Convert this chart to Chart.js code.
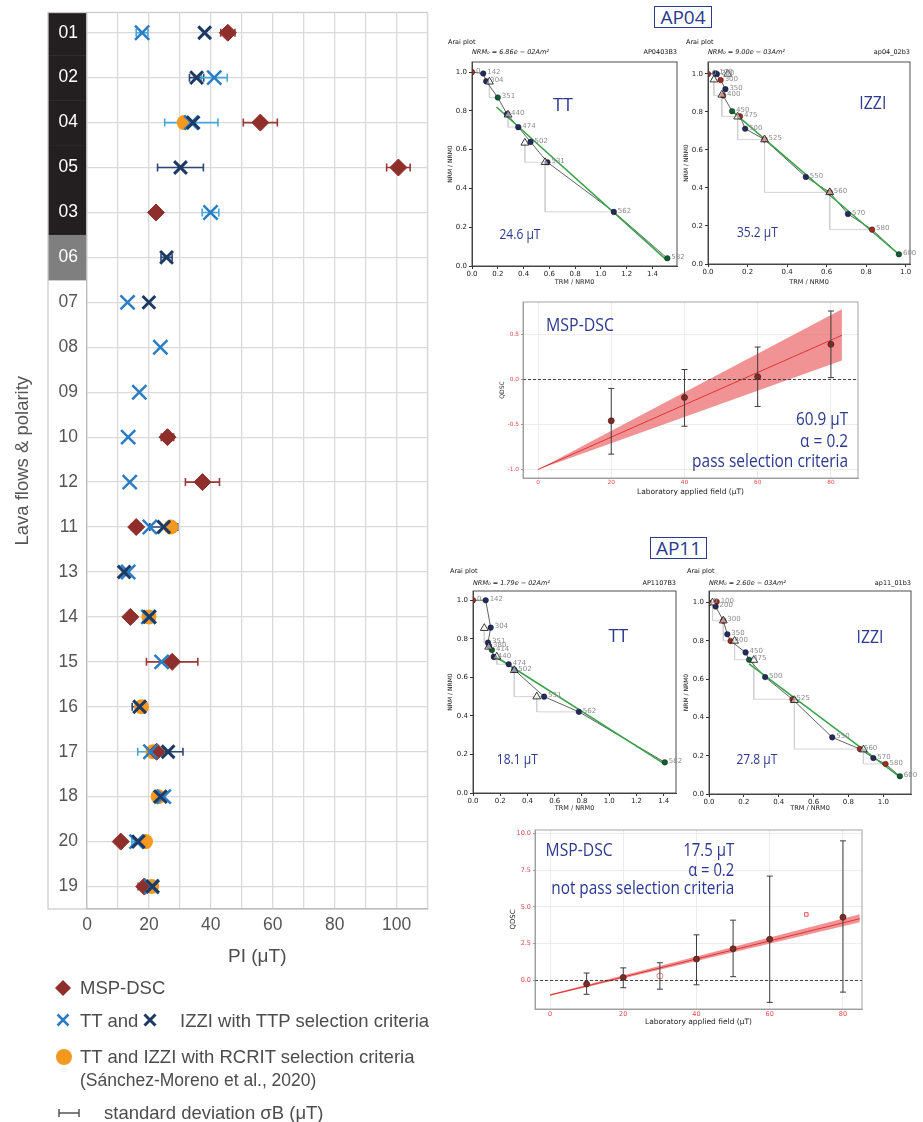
<!DOCTYPE html>
<html>
<head>
<meta charset="utf-8">
<script src="https://cdn.jsdelivr.net/npm/chart.js@4.4.1/dist/chart.umd.min.js"></script>
<style>
  body { margin: 0; background: #fff; }
  #wrap { position: relative; width: 923px; height: 1122px; overflow: hidden; font-family: "Liberation Sans", Arial, sans-serif; }
  canvas { position: absolute; }
  .box { position: absolute; box-sizing: border-box; border: 1px solid #2b3990; color: #2b3990;
         font: 19px "Open Sans", sans-serif; text-align: center; line-height: 20px; height: 22px; }
  .lg { position: absolute; color: #4d4d4d; font-size: 18.5px; white-space: nowrap; line-height: 22px; }
</style>
</head>
<body>
<div id="wrap">
  <canvas id="main" width="440" height="975" style="left:0;top:0"></canvas>
  <canvas id="a1" width="250" height="254" style="left:440px;top:36px"></canvas>
  <canvas id="a2" width="241" height="254" style="left:682px;top:36px"></canvas>
  <canvas id="d1" width="375" height="205" style="left:495px;top:295px"></canvas>
  <canvas id="a3" width="250" height="253" style="left:440px;top:565px"></canvas>
  <canvas id="a4" width="241" height="253" style="left:682px;top:565px"></canvas>
  <canvas id="d2" width="375" height="208" style="left:495px;top:822px"></canvas>

  <div class="box" style="left:654px;top:6px;width:58px">AP04</div>
  <div class="box" style="left:650px;top:537px;width:57px">AP11</div>

  <svg width="200" height="152" style="position:absolute;left:0;top:970px">
    <polygon points="63,10 71,18 63,26 55,18" fill="#8e2f2b"/>
    <path d="M57.5,44.5 L68.5,55.5 M68.5,44.5 L57.5,55.5" stroke="#2a7dc4" stroke-width="2.5"/>
    <path d="M144.5,44.5 L155.5,55.5 M155.5,44.5 L144.5,55.5" stroke="#1c3a63" stroke-width="3"/>
    <circle cx="64" cy="87" r="8" fill="#f5981f"/>
    <path d="M59,143 L79,143 M59,139 L59,147 M79,139 L79,147" stroke="#555" stroke-width="1.5"/>
  </svg>
  <div class="lg" style="left:80px;top:977px">MSP-DSC</div>
  <div class="lg" style="left:80px;top:1010px">TT and</div>
  <div class="lg" style="left:180px;top:1010px">IZZI with TTP selection criteria</div>
  <div class="lg" style="left:80px;top:1046px">TT and IZZI with RCRIT selection criteria</div>
  <div class="lg" style="left:80px;top:1069px;font-size:17.5px">(Sánchez-Moreno et al., 2020)</div>
  <div class="lg" style="left:104px;top:1102px">standard deviation σB (μT)</div>
</div>

<script>
// ---- main panel: palaeointensity per lava flow ----
const flows    = ['01','02','04','05','03','06','07','08','09','10','12','11','13','14','15','16','17','18','20','19'];
const polarity = ['R','R','R','R','R','T','N','N','N','N','N','N','N','N','N','N','N','N','N','N'];
const mspPI  = [45.5, null, 56.0, 100.6, 22.3, null, null, null, null, 26.0, 37.3, 15.9, null, 14.0, 27.5, null, 22.5, null, 10.9, 18.5];
const mspSD  = [2.3, null, 5.5, 3.8, null, null, null, null, null, 2.0, 5.5, 1.5, null, null, 8.3, null, null, null, 0.8, 2.0];
const ttPI   = [17.8, 41.1, 33.7, null, 39.9, null, 13.1, 23.7, 16.9, 13.3, 13.8, 20.3, 13.3, 19.8, 24.1, null, 20.5, 24.8, 16.0, 20.8];
const ttSD   = [1.9, 4.2, 8.6, null, 2.7, null, null, null, null, null, null, null, null, null, null, null, 4.1, null, 1.5, null];
const izziPI = [38.0, 35.4, 34.3, 30.2, null, 25.7, 20.0, null, null, null, null, 24.8, 12.0, 20.2, null, 17.0, 26.2, 23.7, 16.6, 21.2];
const izziSD = [null, 2.3, null, 7.4, null, 1.8, null, null, null, null, null, 4.5, null, null, null, 2.4, 4.8, null, null, null];
const rcritPI = [null, null, 31.4, null, null, null, null, null, null, null, null, 27.1, null, 20.0, null, 17.6, 21.3, 23.0, 18.9, 20.9];
const piTicks = [0, 10, 20, 30, 40, 50, 60, 70, 80, 90, 100, 110];

// ---- Arai plots ----
const a1Steps = ['0','142','304','351','440','474','502','531','562','582'];
const a1X   = [0, 0.087, 0.11, 0.2, 0.272, 0.359, 0.454, 0.585, 1.10, 1.515];
const a1Y   = [1.0, 0.993, 0.953, 0.869, 0.783, 0.716, 0.64, 0.535, 0.279, 0.04];
const a1Col = ['r','n','n','g','n','n','n','n','n','g'];
const a1TriX = [0.135, 0.28, 0.41, 0.567];
const a1TriY = [0.95, 0.78, 0.635, 0.535];
const a1CheckTo = [3, 5, 7, 8];
const a1FitX = [0.19, 1.51], a1FitY = [0.82, 0.03];

const a2Steps = ['0','100','200','300','350','400','450','475','500','525','550','560','570','580','600'];
const a2X   = [0, 0.037, 0.045, 0.064, 0.088, 0.076, 0.122, 0.162, 0.188, 0.286, 0.495, 0.616, 0.708, 0.83, 0.966];
const a2Y   = [1.0, 1.003, 1.0, 0.968, 0.92, 0.887, 0.804, 0.777, 0.712, 0.655, 0.458, 0.377, 0.263, 0.181, 0.051];
const a2Col = ['r','n','n','r','n','r','g','r','n','r','n','r','n','r','g'];
const a2TriX = [0.03, 0.1, 0.07, 0.15, 0.286, 0.616];
const a2TriY = [0.97, 1.0, 0.89, 0.775, 0.655, 0.377];
const a2CheckTo = [5, null, 7, 9, 11, 13];
const a2FitX = [0.122, 0.966], a2FitY = [0.805, 0.05];

const a3Steps = ['0','142','304','351','380','414','440','474','502','531','562','582'];
const a3X   = [0, 0.093, 0.13, 0.11, 0.118, 0.139, 0.153, 0.262, 0.303, 0.522, 0.777, 1.408];
const a3Y   = [1.0, 1.0, 0.858, 0.78, 0.763, 0.742, 0.706, 0.668, 0.639, 0.5, 0.421, 0.159];
const a3Col = ['r','n','n','n','n','g','n','n','n','n','n','g'];
const a3TriX = [0.083, 0.115, 0.175, 0.303, 0.468];
const a3TriY = [0.855, 0.758, 0.707, 0.637, 0.5];
const a3CheckTo = [3, 5, 7, 9, 10];
const a3FitX = [0.139, 1.408], a3FitY = [0.72, 0.15];

const a4Steps = ['0','100','200','300','350','400','450','475','500','525','550','560','570','580','600'];
const a4X   = [0, 0.044, 0.038, 0.082, 0.105, 0.124, 0.21, 0.23, 0.322, 0.479, 0.707, 0.866, 0.943, 1.013, 1.095];
const a4Y   = [1.0, 1.005, 0.98, 0.906, 0.835, 0.8, 0.74, 0.702, 0.611, 0.495, 0.296, 0.235, 0.188, 0.157, 0.093];
const a4Col = ['r','r','n','r','n','r','n','g','n','r','n','r','n','r','g'];
const a4TriX = [0.02, 0.082, 0.147, 0.257, 0.49, 0.886];
const a4TriY = [1.0, 0.906, 0.8, 0.70, 0.49, 0.232];
const a4CheckTo = [3, 5, 7, 9, 11, 13];
const a4FitX = [0.23, 1.095], a4FitY = [0.68, 0.09];

// ---- MSP-DSC plots ----
const d1Field = [20, 40, 60, 80];
const d1Q  = [-0.46, -0.2, 0.03, 0.39];
const d1Lo = [-0.83, -0.52, -0.3, 0.02];
const d1Hi = [-0.1, 0.11, 0.36, 0.76];
const d1Open = [false, false, false, false];
const d1BandX = [0, 83], d1BandHi = [-1, 0.78], d1BandLo = [-1, 0.21], d1Fit = [-1, 0.49];

const d2Field = [10, 20, 30, 40, 50, 60, 80];
const d2Q  = [-0.25, 0.2, 0.3, 1.45, 2.15, 2.8, 4.3];
const d2Lo = [-0.95, -0.5, -0.6, -0.3, 0.25, -1.5, -0.8];
const d2Hi = [0.5, 0.85, 1.2, 3.1, 4.1, 7.1, 9.5];
const d2Open = [false, false, true, false, false, false, false];
const d2ExtraX = [70], d2ExtraY = [4.49];
const d2BandX = [0, 84.6], d2BandHi = [-0.95, 4.5], d2BandLo = [-1.05, 3.95], d2Fit = [-1.0, 4.2];

const ARIAL = '"Liberation Sans", Arial, sans-serif';
const MPL = '"DejaVu Sans", sans-serif';
const BLUEF = '"Open Sans", sans-serif';
const BLUE = '#2b3990';
const dotColor = { r: '#a32a1e', n: '#232a5e', g: '#0f5f34' };
const bandFill = { R: '#231f20', T: '#7f7f7f' };

function fit(px) {
  return s => {
    if (s.isHorizontal()) s.height = px; else s.width = px;
    s.paddingTop = s.paddingBottom = s.paddingLeft = s.paddingRight = 0;
  };
}

function drawErr(chart, after) {
  const { ctx, scales: { x, y } } = chart;
  chart.data.datasets.forEach(ds => {
    const s = ds.errStyle;
    if (!s || !!s.after !== after) return;
    ctx.save();
    ctx.strokeStyle = s.color;
    ctx.lineWidth = s.width;
    ds.data.forEach(p => {
      ctx.beginPath();
      if (p.e != null) {
        const py = y.getPixelForValue(p.y), l = x.getPixelForValue(p.x - p.e), r = x.getPixelForValue(p.x + p.e);
        ctx.moveTo(l, py); ctx.lineTo(r, py);
        ctx.moveTo(l, py - s.cap); ctx.lineTo(l, py + s.cap);
        ctx.moveTo(r, py - s.cap); ctx.lineTo(r, py + s.cap);
      }
      if (p.lo != null) {
        const px = x.getPixelForValue(p.x), b = y.getPixelForValue(p.lo), t = y.getPixelForValue(p.hi);
        ctx.moveTo(px, b); ctx.lineTo(px, t);
        ctx.moveTo(px - s.cap, b); ctx.lineTo(px + s.cap, b);
        ctx.moveTo(px - s.cap, t); ctx.lineTo(px + s.cap, t);
      }
      ctx.stroke();
    });
    ctx.restore();
  });
}
const errBars = {
  id: 'errBars',
  beforeDatasetsDraw(chart) { drawErr(chart, false); },
  afterDatasetsDraw(chart) { drawErr(chart, true); }
};

// black / grey boxes behind the flow names, plus the outer frame
const flowBands = {
  id: 'flowBands',
  beforeDraw(chart) {
    const { ctx, chartArea: a, scales: { y } } = chart;
    const x0 = 48;
    ctx.save();
    polarity.forEach((p, i) => {
      if (!bandFill[p]) return;
      const t = Math.max(a.top, y.getPixelForValue(i - 0.5));
      const b = Math.min(a.bottom, y.getPixelForValue(i + 0.5));
      ctx.fillStyle = bandFill[p];
      ctx.fillRect(x0, t, a.left - x0, b - t + 0.5);
    });
    ctx.strokeStyle = '#cccccc';
    ctx.lineWidth = 1.3;
    ctx.strokeRect(x0, a.top, a.right - x0, a.bottom - a.top);
    ctx.restore();
  }
};

// frames, step labels, zero line and the blue annotations of the small plots
const decor = {
  id: 'decor',
  afterDatasetsDraw(chart, args, o) {
    const { ctx, chartArea: a, scales: { x, y } } = chart;
    ctx.save();
    if (o.zero) {
      const py = Math.round(y.getPixelForValue(0)) + 0.5;
      ctx.setLineDash([3, 2]);
      ctx.strokeStyle = '#333';
      ctx.lineWidth = 0.9;
      ctx.beginPath(); ctx.moveTo(a.left, py); ctx.lineTo(a.right, py); ctx.stroke();
      ctx.setLineDash([]);
    }
    if (o.frame) {
      ctx.strokeStyle = o.frame;
      ctx.lineWidth = 0.9;
      ctx.strokeRect(a.left, a.top, a.right - a.left, a.bottom - a.top);
    }
    chart.data.datasets.forEach((ds, di) => {
      if (!ds.stepLabels) return;
      const meta = chart.getDatasetMeta(di);
      ctx.fillStyle = '#8c8c8c';
      ctx.font = '7px ' + MPL;
      ctx.textAlign = 'left';
      ctx.textBaseline = 'middle';
      meta.data.forEach((el, i) => ctx.fillText(ds.stepLabels[i], el.x + 4, el.y - 1));
    });
    (o.head || []).forEach(h => {
      ctx.font = (h.italic ? 'italic ' : '') + (h.size || 6.5) + 'px ' + MPL;
      ctx.fillStyle = '#111';
      ctx.textAlign = h.align || 'left';
      ctx.textBaseline = 'middle';
      const hx = h.x === 'L' ? a.left : h.x === 'R' ? a.right : h.x;
      ctx.fillText(h.t, hx, h.y);
    });
    (o.notes || []).forEach(n => {
      ctx.font = n.size + 'px ' + BLUEF;
      ctx.fillStyle = BLUE;
      ctx.textAlign = n.align || 'center';
      ctx.textBaseline = 'middle';
      const px = x.getPixelForValue(n.x), py = y.getPixelForValue(n.y);
      if (n.maxW) ctx.fillText(n.t, px, py, n.maxW); else ctx.fillText(n.t, px, py);
    });
    ctx.restore();
  }
};

// ---------- main chart ----------
const series = (vals, sds) => vals.map((v, i) => v == null ? null : { x: v, y: i, e: sds ? sds[i] : null }).filter(p => p);

new Chart(document.getElementById('main'), {
  type: 'scatter',
  data: {
    datasets: [
      { label: 'IZZI', data: series(izziPI, izziSD), pointStyle: 'crossRot', pointRadius: 9,
        pointBorderColor: '#1c3a63', pointBorderWidth: 3, errStyle: { color: '#2b4675', width: 1.6, cap: 4 }, order: 0 },
      { label: 'TT', data: series(ttPI, ttSD), pointStyle: 'crossRot', pointRadius: 10,
        pointBorderColor: '#2a7dc4', pointBorderWidth: 2.5, errStyle: { color: '#45a8d6', width: 1.6, cap: 4 }, order: 1 },
      { label: 'MSP-DSC', data: series(mspPI, mspSD), pointStyle: 'rectRot', pointRadius: 8.5,
        pointBackgroundColor: '#8e2f2b', pointBorderColor: '#8e2f2b', pointBorderWidth: 1, errStyle: { color: '#9a3a36', width: 1.6, cap: 4 }, order: 2 },
      { label: 'RCRIT', data: series(rcritPI, null), pointStyle: 'circle', pointRadius: 7.5,
        pointBackgroundColor: '#f5981f', pointBorderWidth: 0, order: 3 }
    ]
  },
  options: {
    responsive: false, animation: false, events: [],
    layout: { padding: { top: 8, right: 11, left: 0, bottom: 0 } },
    plugins: { legend: { display: false }, tooltip: { enabled: false } },
    scales: {
      x: {
        type: 'linear', min: 0, max: 110,
        afterBuildTicks: s => { s.ticks = piTicks.map(v => ({ value: v })); },
        ticks: { callback: v => v % 20 === 0 && v <= 100 ? v : '', autoSkip: false, maxRotation: 0,
                 font: { family: ARIAL, size: 17.5 }, color: '#555', padding: 6 },
        grid: { color: '#dadada', lineWidth: 1.3, drawTicks: false },
        border: { color: '#bdbdbd', width: 1.3 },
        title: { display: true, text: 'PI (μT)', font: { family: ARIAL, size: 19 }, color: '#4d4d4d', padding: { top: 0, bottom: 7 } },
        afterFit: fit(66)
      },
      y: {
        type: 'linear', reverse: true, min: -0.45, max: 19.5,
        afterBuildTicks: s => { s.ticks = flows.map((f, i) => ({ value: i })); },
        ticks: { callback: v => flows[v], autoSkip: false, font: { family: ARIAL, size: 17.5 },
                 color: c => polarity[c.index] !== 'N' ? '#ffffff' : '#555', padding: 9 },
        grid: { color: '#dadada', lineWidth: 1.3, drawTicks: false },
        border: { color: '#bdbdbd', width: 1.3 },
        title: { display: true, text: 'Lava flows & polarity', font: { family: ARIAL, size: 18.5 }, color: '#555', padding: { top: 12, bottom: 0 } },
        afterFit: fit(87)
      }
    }
  },
  plugins: [flowBands, errBars]
});

// ---------- Arai plots ----------
function araiChart(id, d, ax) {
  const pt = i => ({ x: d.x[i], y: d.y[i] });
  const sets = [];
  d.checkTo.forEach((to, k) => {
    if (to === null) return;
    sets.push({ data: [{ x: d.triX[k], y: d.triY[k] }, { x: d.triX[k], y: d.y[to] }, pt(to)],
      showLine: true, borderColor: '#cfcfcf', borderWidth: 0.9, pointRadius: 0, order: 6 });
  });
  sets.push({ data: d.x.map((_, i) => pt(i)), showLine: true, borderColor: '#3a3a3a', borderWidth: 0.8, pointRadius: 0, order: 5 });
  sets.push({ data: d.fitX.map((v, i) => ({ x: v, y: d.fitY[i] })), showLine: true, borderColor: '#3aa34a', borderWidth: 1.6, pointRadius: 0, order: 4 });
  sets.push({ data: d.x.map((_, i) => pt(i)), pointRadius: 2.8, pointBackgroundColor: d.col.map(c => dotColor[c]),
    pointBorderColor: '#111', pointBorderWidth: 0.4, stepLabels: d.steps, order: 3 });
  sets.push({ data: d.triX.map((v, i) => ({ x: v, y: d.triY[i] })), pointStyle: 'triangle', pointRadius: 4.5,
    pointBackgroundColor: 'rgba(255,255,255,0.5)', pointBorderColor: '#222', pointBorderWidth: 0.9, order: 2 });

  new Chart(document.getElementById(id), {
    type: 'scatter',
    data: { datasets: sets },
    options: {
      responsive: false, animation: false, events: [],
      layout: { padding: { top: ax.top, right: ax.right, left: 0, bottom: 0 } },
      plugins: {
        legend: { display: false }, tooltip: { enabled: false },
        decor: { frame: '#3a3a3a', head: ax.head, notes: ax.notes }
      },
      scales: {
        x: {
          type: 'linear', min: 0, max: ax.xmax,
          ticks: { stepSize: 0.2, includeBounds: false, callback: v => v.toFixed(1), maxRotation: 0,
                   font: { family: MPL, size: 7 }, color: '#222', padding: 1 },
          grid: { drawOnChartArea: false, tickLength: 3, tickColor: '#333' },
          border: { color: '#3a3a3a', width: 0.9 },
          title: { display: true, text: 'TRM / NRM0', font: { family: MPL, size: 6.5 }, color: '#222', padding: { top: 0, bottom: ax.xt } },
          afterFit: fit(ax.xh)
        },
        y: {
          type: 'linear', min: 0, max: ax.ymax,
          ticks: { stepSize: 0.2, includeBounds: false, callback: v => v.toFixed(1),
                   font: { family: MPL, size: 7 }, color: '#222', padding: 2 },
          grid: { drawOnChartArea: false, tickLength: 3, tickColor: '#333' },
          border: { color: '#3a3a3a', width: 0.9 },
          title: { display: true, text: 'NRM / NRM0', font: { family: MPL, size: 6 }, color: '#222', padding: { top: ax.yt, bottom: 0 } },
          afterFit: fit(ax.yw)
        }
      }
    },
    plugins: [decor]
  });
}

araiChart('a1',
  { steps: a1Steps, x: a1X, y: a1Y, col: a1Col, triX: a1TriX, triY: a1TriY, checkTo: a1CheckTo, fitX: a1FitX, fitY: a1FitY },
  { top: 26, right: 13, yw: 32, xh: 24, xmax: 1.59, ymax: 1.052, xt: 4, yt: 6.4,
    head: [{ t: 'Arai plot', x: 8, y: 6 }, { t: 'NRM₀ = 6.86e − 02Am²', x: 'L', y: 16, italic: true }, { t: 'AP0403B3', x: 'R', y: 16, align: 'right' }],
    notes: [{ t: 'TT', x: 0.706, y: 0.826, size: 18 }, { t: '24.6 μT', x: 0.372, y: 0.16, size: 15, maxW: 41 }] });

araiChart('a2',
  { steps: a2Steps, x: a2X, y: a2Y, col: a2Col, triX: a2TriX, triY: a2TriY, checkTo: a2CheckTo, fitX: a2FitX, fitY: a2FitY },
  { top: 26, right: 13, yw: 26, xh: 26, xmax: 1.022, ymax: 1.063, xt: 4, yt: 0.4,
    head: [{ t: 'Arai plot', x: 4, y: 6 }, { t: 'NRM₀ = 9.00e − 03Am²', x: 'L', y: 16, italic: true }, { t: 'ap04_02b3', x: 'R', y: 16, align: 'right' }],
    notes: [{ t: 'IZZI', x: 0.834, y: 0.842, size: 18, maxW: 27 }, { t: '35.2 μT', x: 0.25, y: 0.163, size: 15, maxW: 41 }] });

araiChart('a3',
  { steps: a3Steps, x: a3X, y: a3Y, col: a3Col, triX: a3TriX, triY: a3TriY, checkTo: a3CheckTo, fitX: a3FitX, fitY: a3FitY },
  { top: 26, right: 14, yw: 33, xh: 25, xmax: 1.49, ymax: 1.048, xt: 6, yt: 6.4,
    head: [{ t: 'Arai plot', x: 10, y: 6 }, { t: 'NRM₀ = 1.79e − 02Am²', x: 'L', y: 18, italic: true }, { t: 'AP1107B3', x: 'R', y: 18, align: 'right' }],
    notes: [{ t: 'TT', x: 1.067, y: 0.81, size: 18 }, { t: '18.1 μT', x: 0.325, y: 0.173, size: 15, maxW: 41 }] });

araiChart('a4',
  { steps: a4Steps, x: a4X, y: a4Y, col: a4Col, triX: a4TriX, triY: a4TriY, checkTo: a4CheckTo, fitX: a4FitX, fitY: a4FitY },
  { top: 26, right: 12, yw: 27, xh: 24, xmax: 1.159, ymax: 1.061, xt: 6, yt: 0.4,
    head: [{ t: 'Arai plot', x: 5, y: 6 }, { t: 'NRM₀ = 2.60e − 03Am²', x: 'L', y: 18, italic: true }, { t: 'ap11_01b3', x: 'R', y: 18, align: 'right' }],
    notes: [{ t: 'IZZI', x: 0.924, y: 0.815, size: 18, maxW: 27 }, { t: '27.8 μT', x: 0.275, y: 0.178, size: 15, maxW: 41 }] });

// ---------- MSP-DSC plots ----------
function dscChart(id, d, ax) {
  const sets = [
    { data: d.bandX.map((v, i) => ({ x: v, y: d.bandHi[i] })), showLine: true, pointRadius: 0, borderWidth: 0,
      borderColor: 'transparent', fill: '+1', backgroundColor: 'rgba(234,96,98,0.68)', order: 6 },
    { data: d.bandX.map((v, i) => ({ x: v, y: d.bandLo[i] })), showLine: true, pointRadius: 0, borderWidth: 0,
      borderColor: 'transparent', order: 7 },
    { data: d.bandX.map((v, i) => ({ x: v, y: d.fit[i] })), showLine: true, pointRadius: 0, borderColor: '#dd3434', borderWidth: 1, order: 5 },
    { data: d.field.map((f, i) => ({ x: f, y: d.q[i], lo: d.lo[i], hi: d.hi[i] })), pointRadius: 3,
      pointBackgroundColor: d.open.map(h => h ? '#fff' : '#8e2a22'), pointBorderColor: d.open.map(h => h ? '#e06666' : '#5c1b16'),
      pointBorderWidth: 0.8, errStyle: { color: '#3c3c3c', width: 1, cap: 3, after: true }, order: 1 }
  ];
  if (d.extraX) {
    sets.push({ data: d.extraX.map((v, i) => ({ x: v, y: d.extraY[i] })), pointStyle: 'rect', pointRadius: 2.5,
      pointBackgroundColor: '#fff', pointBorderColor: '#e05555', pointBorderWidth: 1, order: 0 });
  }
  new Chart(document.getElementById(id), {
    type: 'scatter',
    data: { datasets: sets },
    options: {
      responsive: false, animation: false, events: [],
      layout: { padding: { top: ax.top, right: ax.right, left: 0, bottom: 0 } },
      plugins: {
        legend: { display: false }, tooltip: { enabled: false },
        decor: { frame: '#9a9a9a', zero: true, notes: ax.notes }
      },
      scales: {
        x: {
          type: 'linear', min: -4.1, max: ax.xmax,
          ticks: { stepSize: 20, includeBounds: false, maxRotation: 0, font: { family: MPL, size: ax.tick }, color: '#e8484a', padding: 1 },
          grid: { color: '#ececec', drawTicks: false },
          border: { color: '#9a9a9a', width: 0.9 },
          title: { display: true, text: 'Laboratory applied field (μT)', font: { family: MPL, size: 7.5 }, color: '#222', padding: { top: 0, bottom: 3.5 } },
          afterFit: fit(ax.xh)
        },
        y: {
          type: 'linear', min: ax.ymin, max: ax.ymax,
          ticks: { stepSize: ax.ystep, includeBounds: false, callback: v => v.toFixed(1), font: { family: MPL, size: ax.tick }, color: '#e8484a', padding: 2 },
          grid: { color: '#ececec', tickLength: 2, tickColor: '#9a9a9a' },
          border: { color: '#9a9a9a', width: 0.9 },
          title: { display: true, text: 'QDSC', font: { family: MPL, size: ax.ytitle }, color: '#222', padding: { top: ax.yt, bottom: 0 } },
          afterFit: fit(ax.yw)
        }
      }
    },
    plugins: [errBars, decor]
  });
}

dscChart('d1',
  { field: d1Field, q: d1Q, lo: d1Lo, hi: d1Hi, open: d1Open, bandX: d1BandX, bandHi: d1BandHi, bandLo: d1BandLo, fit: d1Fit },
  { top: 7, right: 12, yw: 28, xh: 22, xmax: 87.4, ymin: -1.095, ymax: 0.86, ystep: 0.5, tick: 5.8, ytitle: 6, yt: 3.4,
    notes: [
      { t: 'MSP-DSC', x: 2.2, y: 0.6, size: 18.5, align: 'left', maxW: 68 },
      { t: '60.9 μT', x: 84.7, y: -0.453, size: 18.5, align: 'right', maxW: 52 },
      { t: 'α = 0.2', x: 84.7, y: -0.694, size: 18.5, align: 'right', maxW: 48 },
      { t: 'pass selection criteria', x: 84.7, y: -0.917, size: 18.5, align: 'right', maxW: 156 }
    ] });

dscChart('d2',
  { field: d2Field, q: d2Q, lo: d2Lo, hi: d2Hi, open: d2Open, extraX: d2ExtraX, extraY: d2ExtraY,
    bandX: d2BandX, bandHi: d2BandHi, bandLo: d2BandLo, fit: d2Fit },
  { top: 8, right: 8, yw: 40, xh: 21, xmax: 85.2, ymin: -1.95, ymax: 10.24, ystep: 2.5, tick: 6.5, ytitle: 7, yt: 13.8,
    notes: [
      { t: 'MSP-DSC', x: -1.2, y: 8.86, size: 18.5, align: 'left', maxW: 67 },
      { t: '17.5 μT', x: 50.3, y: 8.86, size: 18.5, align: 'right', maxW: 51 },
      { t: 'α = 0.2', x: 50.3, y: 7.5, size: 18.5, align: 'right', maxW: 46 },
      { t: 'not pass selection criteria', x: 50.3, y: 6.21, size: 18.5, align: 'right', maxW: 183 }
    ] });
</script>
</body>
</html>
